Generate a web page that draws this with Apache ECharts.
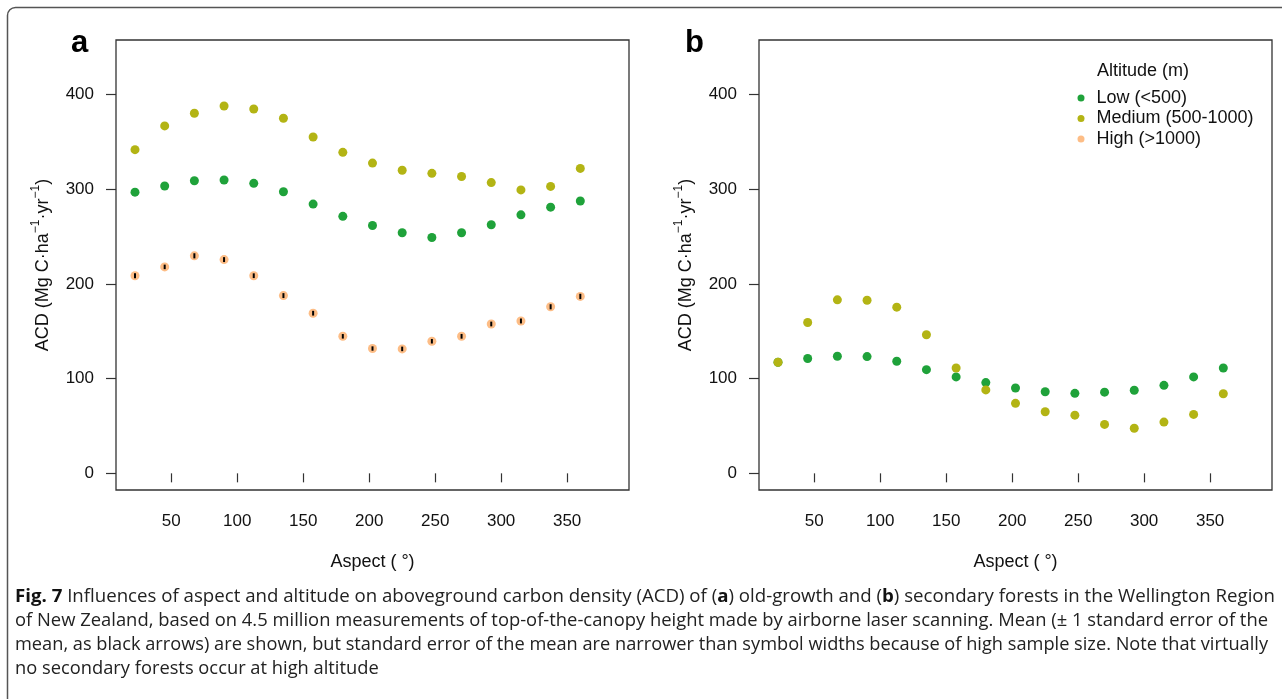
<!DOCTYPE html>
<html>
<head>
<meta charset="utf-8">
<script src="https://cdn.jsdelivr.net/npm/echarts@6/dist/echarts.min.js"></script>
<style>
html,body{margin:0;padding:0;background:#fff;}
#chart{width:1282px;height:699px;}
</style>
</head>
<body>
<div id="chart"></div>
<script>
// ---- data ----
const aspect = [22.5, 45, 67.5, 90, 112.5, 135, 157.5, 180, 202.5, 225, 247.5, 270, 292.5, 315, 337.5, 360];
const xTicks = [50, 100, 150, 200, 250, 300, 350];
const yTicks = [0, 100, 200, 300, 400];
// panel a: old-growth forests
const lowA  = [296.9, 303.4, 309.0, 309.8, 306.2, 297.3, 284.3, 271.4, 261.7, 254.0, 249.1, 254.0, 262.5, 273.0, 281.1, 287.6];
const medA  = [341.8, 366.9, 380.2, 387.9, 384.7, 375.0, 355.2, 339.0, 327.6, 320.0, 316.8, 313.5, 307.0, 299.3, 303.0, 322.0];
const highA = [208.7, 218.0, 229.7, 225.7, 208.7, 187.7, 169.1, 144.7, 131.8, 131.4, 139.5, 144.7, 157.7, 160.9, 175.9, 186.8];
const highSE = [2.6, 2.4, 2.7, 2.6, 2.5, 2.6, 2.5, 2.4, 2.3, 2.4, 2.4, 2.5, 2.5, 2.6, 2.7, 2.8];
// panel b: secondary forests
const lowB  = [117.3, 121.3, 123.7, 123.3, 118.4, 109.5, 101.8, 95.8, 90.1, 86.1, 84.5, 85.7, 87.7, 92.9, 101.8, 111.2];
const medB  = [117.3, 159.3, 183.2, 182.8, 175.5, 146.4, 111.2, 88.1, 73.9, 65.0, 61.4, 51.7, 47.6, 54.1, 62.2, 84.1];
const seriesNames = ['Low (<500)', 'Medium (500-1000)', 'High (>1000)'];
const captionLines = [
  '{b|Fig. 7} Influences of aspect and altitude on aboveground carbon density (ACD) of ({b|a}) old-growth and ({b|b}) secondary forests in the Wellington Region',
  'of New Zealand, based on 4.5 million measurements of top-of-the-canopy height made by airborne laser scanning. Mean (\u00b1 1 standard error of the',
  'mean, as black arrows) are shown, but standard error of the mean are narrower than symbol widths because of high sample size. Note that virtually',
  'no secondary forests occur at high altitude'
];

// ---- styles ----
const COLORS = ['#1fa23a', '#b3b414', '#fdbd86'];
const FONT = '"Liberation Sans", Arial, Helvetica, sans-serif';
const CAP_FONT = '"Open Sans", "Noto Sans", sans-serif';
const CAP_SIZE = 18;

function zip(xs, ys) { return xs.map((x, i) => [x, ys[i]]); }

function xAxisCfg(gridIndex) {
  return {
    type: 'value', gridIndex, min: 8.1, max: 396.9,
    name: 'Aspect ( \u00b0)', nameLocation: 'middle', nameGap: 63,
    nameTextStyle: { fontFamily: FONT, fontSize: 18, color: '#111' },
    axisLine: { show: false },
    axisTick: { show: true, length: 9, customValues: xTicks, lineStyle: { color: '#333', width: 1.2 } },
    axisLabel: { customValues: xTicks, margin: 23, fontFamily: FONT, fontSize: 17, color: '#111' },
    splitLine: { show: false }
  };
}
function yAxisCfg(gridIndex) {
  return {
    type: 'value', gridIndex, min: -17.6, max: 457.6,
    name: '{n|ACD (Mg C\u00b7ha}{s|\u22121}{n|\u00b7yr}{s|\u22121}{n|)}',
    nameLocation: 'middle', nameGap: 64, nameRotate: 90,
    nameTextStyle: {
      fontFamily: FONT, fontSize: 18, color: '#111',
      rich: {
        n: { fontFamily: FONT, fontSize: 18, color: '#111', lineHeight: 22, verticalAlign: 'bottom' },
        s: { fontFamily: FONT, fontSize: 12, color: '#111', lineHeight: 22, verticalAlign: 'top' }
      }
    },
    axisLine: { show: false },
    axisTick: { show: true, length: 10, customValues: yTicks, lineStyle: { color: '#333', width: 1.2 } },
    axisLabel: { customValues: yTicks, margin: 22, fontFamily: FONT, fontSize: 17, color: '#111' },
    splitLine: { show: false }
  };
}
function scatter(name, xi, data, color) {
  return {
    name, type: 'scatter', xAxisIndex: xi, yAxisIndex: xi,
    data, symbol: 'circle', symbolSize: 9, z: 2,
    itemStyle: { color, opacity: 1 },
    emphasis: { disabled: true }, silent: true
  };
}

// caption: measure each line, squeeze to the justified width of the reference
const mctx = document.createElement('canvas').getContext('2d');
function lineWidth(str) {
  let w = 0;
  const parts = str.split(/(\{b\|[^}]*\})/);
  parts.forEach(p => {
    if (!p) return;
    const m = p.match(/^\{b\|([^}]*)\}$/);
    if (m) { mctx.font = 'bold ' + CAP_SIZE + 'px ' + CAP_FONT; w += mctx.measureText(m[1]).width; }
    else { mctx.font = CAP_SIZE + 'px ' + CAP_FONT; w += mctx.measureText(p).width; }
  });
  return w;
}
const capLeft = 15;
const capTargets = [1275, 1268, 1268];
const capY = [597, 621, 645, 669];
const scales = captionLines.slice(0, 3).map((l, i) => (capTargets[i] - capLeft) / lineWidth(l));
const avgScale = (scales[1] + scales[2]) / 2;
const captionGraphics = captionLines.map((l, i) => ({
  type: 'text', x: capLeft, y: capY[i], scaleX: i < 3 ? scales[i] : avgScale,
  silent: true,
  style: {
    text: l, x: 0, y: 0, verticalAlign: 'middle', align: 'left',
    fontFamily: CAP_FONT, fontSize: CAP_SIZE, fill: '#222',
    rich: { b: { fontFamily: CAP_FONT, fontSize: CAP_SIZE, fontWeight: 'bold', fill: '#111' } }
  }
}));

const chart = echarts.init(document.getElementById('chart'), null, { renderer: 'canvas' });
chart.setOption({
  animation: false,
  backgroundColor: '#fff',
  grid: [
    { left: 116, top: 40, width: 513, height: 450, show: true, borderColor: '#333', borderWidth: 1.3, backgroundColor: 'transparent' },
    { left: 759, top: 40, width: 513, height: 450, show: true, borderColor: '#333', borderWidth: 1.3, backgroundColor: 'transparent' }
  ],
  xAxis: [xAxisCfg(0), xAxisCfg(1)],
  yAxis: [yAxisCfg(0), yAxisCfg(1)],
  legend: {
    orient: 'vertical', left: 1077.5, top: 89, padding: 0,
    data: seriesNames, icon: 'circle', itemWidth: 21, itemHeight: 7, itemGap: 2.5,
    selectedMode: false,
    textStyle: { fontFamily: FONT, fontSize: 18, color: '#111', lineHeight: 18 }
  },
  series: [
    scatter(seriesNames[0], 0, zip(aspect, lowA), COLORS[0]),
    scatter(seriesNames[1], 0, zip(aspect, medA), COLORS[1]),
    scatter(seriesNames[2], 0, zip(aspect, highA), COLORS[2]),
    {
      name: 'High SE', type: 'custom', xAxisIndex: 0, yAxisIndex: 0, silent: true, z: 5,
      data: aspect.map((x, i) => [x, highA[i], highSE[i]]),
      dimensions: ['x', 'y', 'se'],
      encode: { x: 0, y: 1 },
      renderItem: function (params, api) {
        const x = api.value(0), y = api.value(1), se = api.value(2);
        const p1 = api.coord([x, y - se]), p2 = api.coord([x, y + se]);
        return { type: 'line', z2: 10, shape: { x1: p1[0], y1: p1[1], x2: p2[0], y2: p2[1] }, style: { stroke: '#000', lineWidth: 2 } };
      }
    },
    scatter(seriesNames[0], 1, zip(aspect, lowB), COLORS[0]),
    scatter(seriesNames[1], 1, zip(aspect, medB), COLORS[1])
  ],
  graphic: [
    { type: 'rect', silent: true, shape: { x: 7.5, y: 7.5, width: 1320, height: 760, r: 8 }, style: { fill: 'none', stroke: '#555', lineWidth: 1.5 } },
    { type: 'text', silent: true, x: 71, y: 28, style: { text: 'a', fontFamily: FONT, fontSize: 31, fontWeight: 'bold', fill: '#000', verticalAlign: 'top' } },
    { type: 'text', silent: true, x: 685, y: 28, style: { text: 'b', fontFamily: FONT, fontSize: 31, fontWeight: 'bold', fill: '#000', verticalAlign: 'top' } },
    { type: 'text', silent: true, x: 1097, y: 71, style: { text: 'Altitude (m)', fontFamily: FONT, fontSize: 18, fill: '#111', verticalAlign: 'middle' } }
  ].concat(captionGraphics)
});
</script>
</body>
</html>
